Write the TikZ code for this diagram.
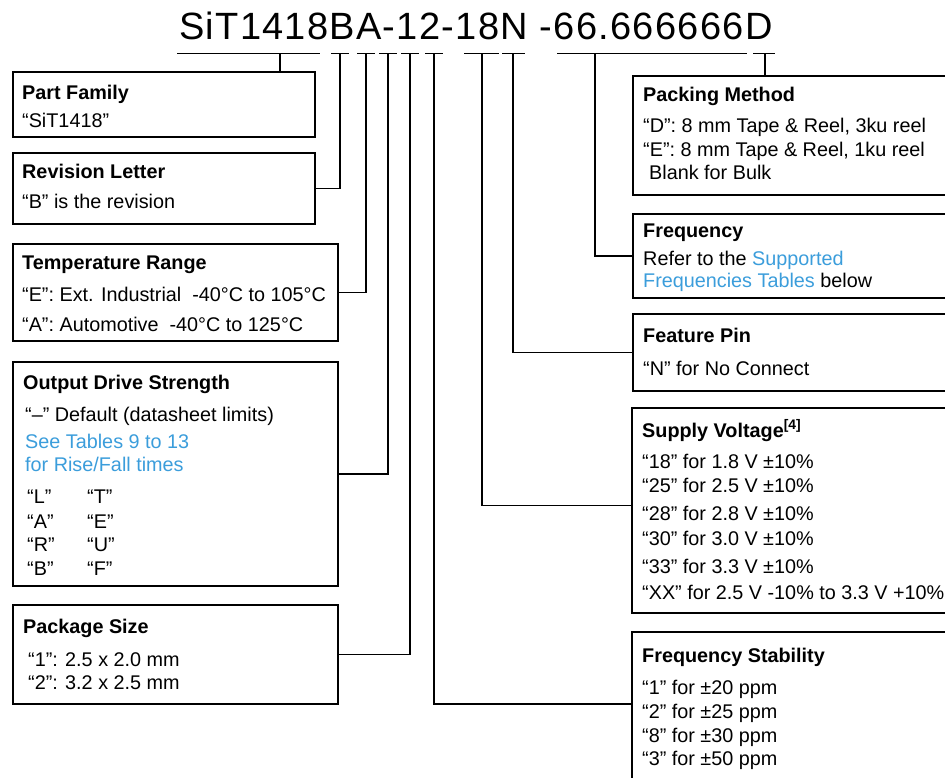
\documentclass[tikz,border=0pt]{standalone}
\usepackage{fontspec}
\setmainfont{Liberation Sans}
\definecolor{linkblue}{RGB}{59,157,219}
\tikzset{
  box/.style={draw, line width=1.6pt, anchor=north west, inner sep=0pt},
  head/.style={anchor=base west, inner sep=0pt, font=\fontsize{19.8}{23}\selectfont\bfseries},
  txt/.style={anchor=base west, inner sep=0pt},
  link/.style={line width=1.4pt},
  tee/.style={line width=1pt}
}
\begin{document}
\begin{tikzpicture}[x=1pt, y=-1pt, font=\fontsize{19.8}{23}\selectfont]
    \useasboundingbox (0,0) rectangle (945,777);
    \clip (0,0) rectangle (945,777);

    % Part number and the tees under it
    \node[txt, font=\fontsize{38}{42}\selectfont\addfontfeature{LetterSpace=3.4}] (pn) at (179,39) {SiT1418BA-12-18N -66.666666D};
    \foreach \n/\a/\b/\x in {tF/177/320/280, tB/331/349/340, tA/357/375/366, tO/379/397/388,
        tP/401/419/410, tS/425/443/434, tV/464/499/482, tN/502/525/513, tQ/557/747/595, tD/753/775/765} {
        \draw[tee] (\a,53) -- (\b,53);
        \coordinate (\n) at (\x,53);
    }

    % Left column
    \node[box, minimum width=302pt, minimum height=65pt] (fam) at (12,71) {};
    \node[head] at (22,99) {Part Family};
    \node[txt] at (22,127) {“SiT1418”};

    \node[box, minimum width=302pt, minimum height=71pt] (rev) at (12,152) {};
    \node[head] at (22,178) {Revision Letter};
    \node[txt] at (22,208) {“B” is the revision};

    \node[box, minimum width=325pt, minimum height=97pt] (temp) at (12,243) {};
    \node[head] at (22,269) {Temperature Range};
    \node[txt] at (22,301) {“E”: Ext. Industrial\ \ -40°C to 105°C};
    \node[txt] at (22,331) {“A”: Automotive\ \ -40°C to 125°C};

    \node[box, minimum width=325pt, minimum height=224pt] (drive) at (12,361) {};
    \node[head] at (23,389) {Output Drive Strength};
    \node[txt] at (25,421) {“–” Default (datasheet limits)};
    \node[txt, text=linkblue] at (25,448) {See Tables 9 to 13};
    \node[txt, text=linkblue] at (25,471) {for Rise/Fall times};
    \foreach \ya/\ca/\cb in {503/L/T, 528/A/E, 551/R/U, 575/B/F} {
        \node[txt] at (27,\ya) {“\ca”};
        \node[txt] at (87,\ya) {“\cb”};
    }

    \node[box, minimum width=325pt, minimum height=99pt] (pkg) at (12,604) {};
    \node[head] at (23,633) {Package Size};
    \node[txt] at (28,666) {“1”: 2.5 x 2.0 mm};
    \node[txt] at (28,689) {“2”: 3.2 x 2.5 mm};

    % Right column
    \node[box, minimum width=330pt, minimum height=119pt] (pack) at (632,75) {};
    \node[head] at (643,101) {Packing Method};
    \node[txt] at (643,132) {“D”: 8 mm Tape \& Reel, 3ku reel};
    \node[txt] at (643,156) {“E”: 8 mm Tape \& Reel, 1ku reel};
    \node[txt] at (649,179) {Blank for Bulk};

    \node[box, minimum width=330pt, minimum height=84pt] (freq) at (632,213) {};
    \node[head] at (643,237) {Frequency};
    \node[txt] at (643,265) {Refer to the \textcolor{linkblue}{Supported}};
    \node[txt] at (643,287) {\textcolor{linkblue}{Frequencies Tables} below};

    \node[box, minimum width=330pt, minimum height=77pt] (pin) at (632,313) {};
    \node[head] at (643,342) {Feature Pin};
    \node[txt] at (643,375) {“N” for No Connect};

    \node[box, minimum width=330pt, minimum height=205pt] (volt) at (631,407) {};
    \node[head] at (642,437) {Supply Voltage\textsuperscript{[4]}};
    \foreach \ya/\tx in {468/{“18” for 1.8 V ±10\%}, 492/{“25” for 2.5 V ±10\%}, 520/{“28” for 2.8 V ±10\%},
        545/{“30” for 3.0 V ±10\%}, 573/{“33” for 3.3 V ±10\%}, 599/{“XX” for 2.5 V -10\% to 3.3 V +10\%}}
        \node[txt] at (642,\ya) {\tx};

    \node[box, minimum width=330pt, minimum height=150pt] (stab) at (631,631) {};
    \node[head] at (642,662) {Frequency Stability};
    \foreach \ya/\tx in {694/{“1” for ±20 ppm}, 718/{“2” for ±25 ppm}, 742/{“8” for ±30 ppm}, 765/{“3” for ±50 ppm}}
        \node[txt] at (642,\ya) {\tx};

    % Connectors
    \draw[link] (tF) -- (tF |- fam.north);
    \draw[link] (tB) |- (rev.east);
    \draw[link] (tA) |- (temp.east);
    \draw[link] (tO) |- (drive.east);
    \draw[link] (tP) |- (pkg.east);
    \draw[link] (tS) |- ([yshift=3pt]stab.west);
    \draw[link] (tV) |- ([yshift=5pt]volt.west);
    \draw[link] (tN) |- (pin.west);
    \draw[link] (tQ) |- (freq.west);
    \draw[link] (tD) -- (tD |- pack.north);
\end{tikzpicture}
\end{document}
